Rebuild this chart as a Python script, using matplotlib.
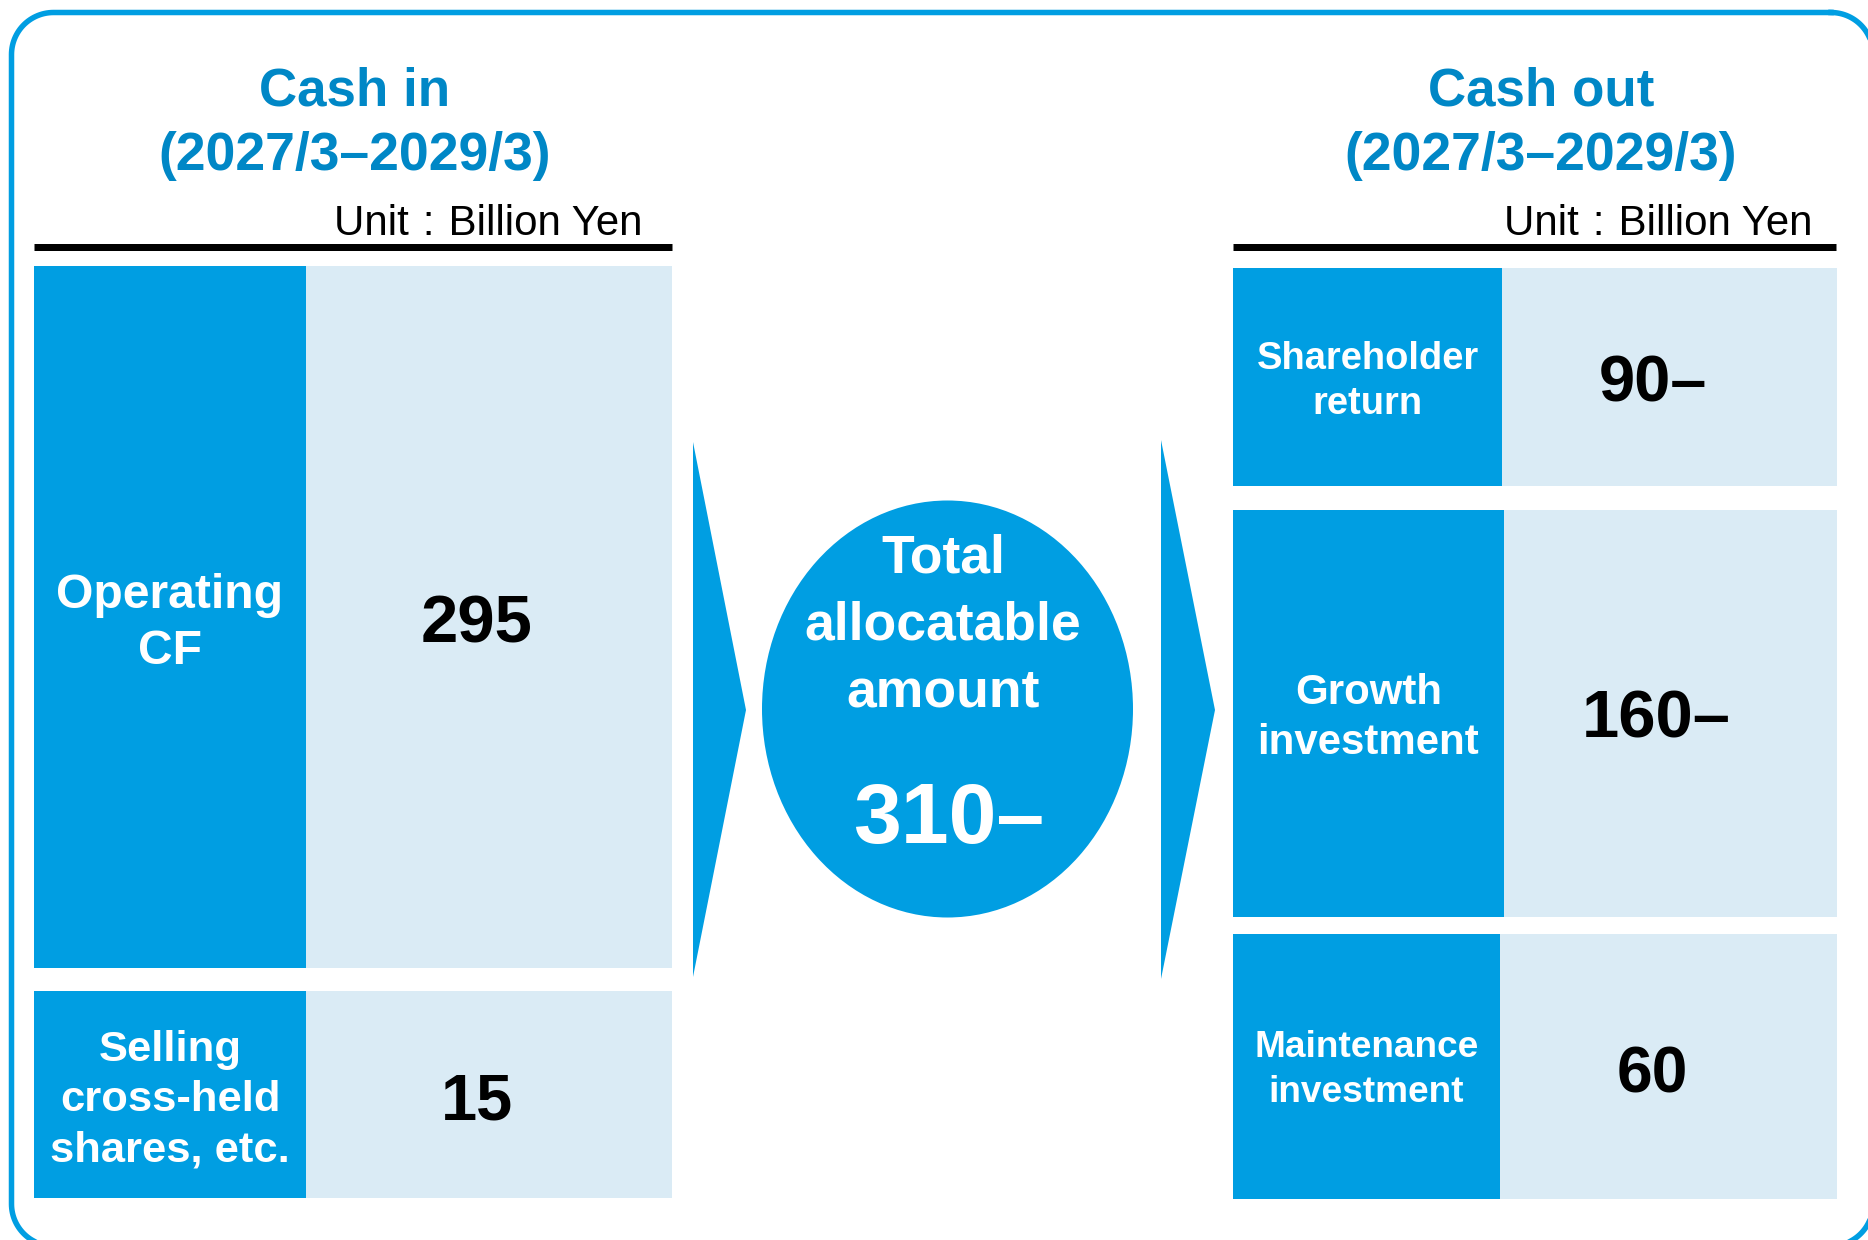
import matplotlib
matplotlib.use("Agg")
import numpy as np
import matplotlib.pyplot as plt
from matplotlib.patches import Rectangle, Ellipse, Polygon

plt.rcParams["font.family"] = ["Liberation Sans", "DejaVu Sans"]

# --- data ---
period = "(2027/3\u20132029/3)"
unit_text = "Unit\u2004:\u2004Billion Yen"
in_labels = ["Operating\nCF", "Selling\ncross-held\nshares, etc."]
in_values = ["295", "15"]
out_labels = ["Shareholder\nreturn", "Growth\ninvestment", "Maintenance\ninvestment"]
out_values = ["90\u2013", "160\u2013", "60"]
total_label = "Total\nallocatable\namount"
total_value = "310\u2013"

# --- styles ---
BLUE = "#009ee2"
LIGHT = "#daebf5"
TITLE = "#0087c6"
PX = 0.72  # px -> pt at dpi 100

fig = plt.figure(figsize=(18.68, 12.40), dpi=100)
ax = fig.add_axes([0, 0, 1, 1])
ax.set_xlim(0, 1868)
ax.set_ylim(1240, 0)
ax.set_autoscale_on(False)
ax.axis("off")


def rounded_frame(x0, y0, x1, y1, r):
    xs, ys = [], []
    corners = [(x1 - r, y0 + r, -90, 0), (x1 - r, y1 - r, 0, 90),
               (x0 + r, y1 - r, 90, 180), (x0 + r, y0 + r, 180, 270)]
    for cx, cy, a0, a1 in corners:
        t = np.radians(np.linspace(a0, a1, 30))
        xs.extend(cx + r * np.cos(t))
        ys.extend(cy + r * np.sin(t))
    xs.append(xs[0])
    ys.append(ys[0])
    ax.plot(xs, ys, color=BLUE, lw=5.5 * PX, solid_joinstyle="round")


# outer frame, running off the right and bottom edges
rounded_frame(11.5, 12.5, 1873, 1246, 42)


def lines(x, first_baseline, step, text, size, color="white"):
    for i, s in enumerate(text.split("\n")):
        ax.text(x, first_baseline + i * step, s, ha="center", va="baseline",
                fontsize=size * PX, fontweight="bold", color=color)


# headers
for cx, title, right in [(355, "Cash in", 643), (1541, "Cash out", 1813)]:
    ax.text(cx, 106, title, ha="center", va="baseline", fontsize=53 * PX,
            fontweight="bold", color=TITLE)
    ax.text(cx, 170, period, ha="center", va="baseline", fontsize=53.5 * PX,
            fontweight="bold", color=TITLE)
    ax.text(right, 235, unit_text, ha="right", va="baseline",
            fontsize=42 * PX, color="black")

ax.plot([34, 672], [246.5, 246.5], color="black", lw=7 * PX, solid_capstyle="butt")
ax.plot([1233, 1836], [246.5, 246.5], color="black", lw=7 * PX, solid_capstyle="butt")

# cash in boxes: top, bottom, label baseline, line step, label px, value baseline, value px
in_rows = [(266, 968, 607.6, 56, 48, 642.5, 67),
           (991, 1197.5, 1060.6, 50.5, 43.5, 1119.6, 65)]
for (top, bot, lb, ls, lsz, vb, vsz), lab, val in zip(in_rows, in_labels, in_values):
    ax.add_patch(Rectangle((34, top), 272, bot - top, fc=BLUE, ec="none"))
    ax.add_patch(Rectangle((306, top), 366, bot - top, fc=LIGHT, ec="none"))
    lines(170, lb, ls, lab, lsz)
    ax.text(477, vb, val, ha="center", va="baseline", fontsize=vsz * PX,
            fontweight="bold", color="black")

# cash out boxes: top, bottom, split, label baseline, step, label px, value x, value baseline, value px
out_rows = [(268, 486, 1502, 369, 45, 38, 1653, 401.8, 65),
            (510, 916.5, 1504, 703.6, 50.5, 42, 1656, 738, 67),
            (934, 1199, 1500, 1057, 45, 37, 1652, 1092.3, 64)]
for (top, bot, split, lb, ls, lsz, vx, vb, vsz), lab, val in zip(out_rows, out_labels, out_values):
    ax.add_patch(Rectangle((1233, top), split - 1233, bot - top, fc=BLUE, ec="none"))
    ax.add_patch(Rectangle((split, top), 1837 - split, bot - top, fc=LIGHT, ec="none"))
    lines((1233 + split) / 2, lb, ls, lab, lsz)
    ax.text(vx, vb, val, ha="center", va="baseline",
            fontsize=vsz * PX, fontweight="bold", color="black")

# arrows
ax.add_patch(Polygon([(693, 442), (746, 710), (693, 977)], closed=True, fc=BLUE, ec="none"))
ax.add_patch(Polygon([(1161, 440), (1215, 710), (1161, 979)], closed=True, fc=BLUE, ec="none"))

# total ellipse
ax.add_patch(Ellipse((947.5, 709), 371, 417, fc=BLUE, ec="none"))
lines(943, 572.4, 67.2, total_label, 53.5)
ax.text(948.5, 842.5, total_value, ha="center", va="baseline", fontsize=86 * PX,
        fontweight="bold", color="white")

fig.savefig("out.png", dpi=100)
